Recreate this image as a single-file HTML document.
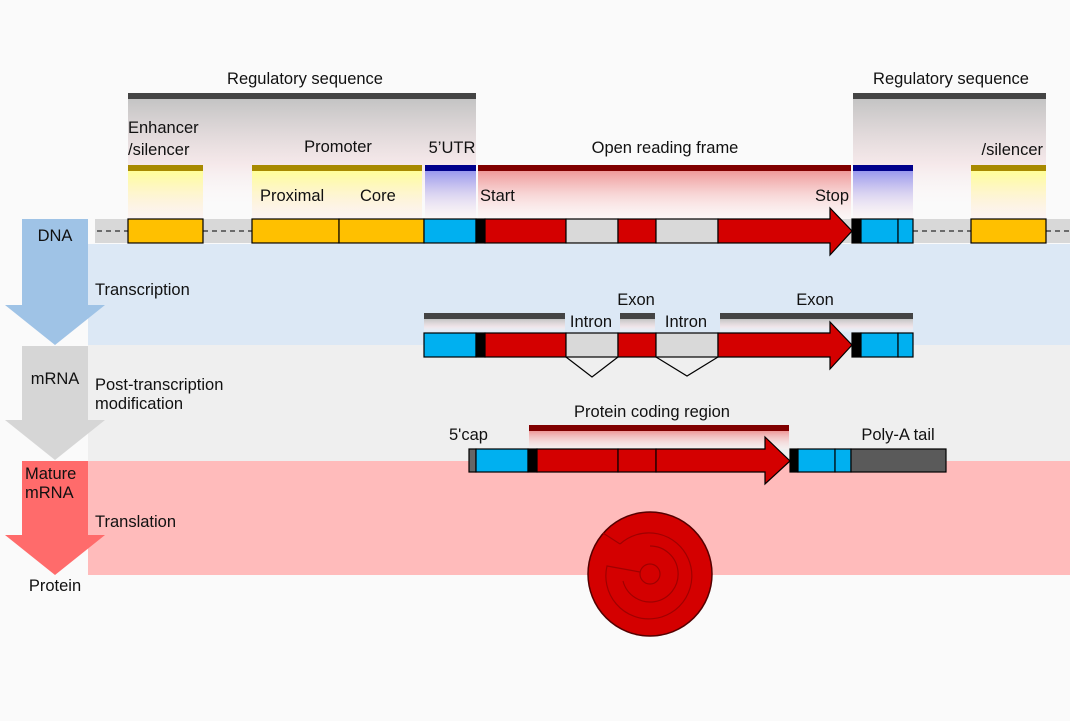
<!DOCTYPE html>
<html><head><meta charset="utf-8"><style>
html,body{margin:0;padding:0;background:#fafafa;}
svg{display:block;}
text{font-family:"Liberation Sans","DejaVu Sans",sans-serif;font-size:16.5px;fill:#111;}
</style></head><body>
<svg width="1070" height="721" viewBox="0 0 1070 721" xmlns="http://www.w3.org/2000/svg">
<defs>
<linearGradient id="gGray" x1="0" y1="0" x2="0" y2="1"><stop offset="0" stop-color="#c4c4c4"/><stop offset="0.55" stop-color="#f4e4e6" stop-opacity="0.8"/><stop offset="1" stop-color="#fff" stop-opacity="0"/></linearGradient>
<linearGradient id="gYel" x1="0" y1="0" x2="0" y2="1"><stop offset="0" stop-color="#ffff99"/><stop offset="1" stop-color="#ffe9e9" stop-opacity="0.4"/></linearGradient>
<linearGradient id="gBlu" x1="0" y1="0" x2="0" y2="1"><stop offset="0" stop-color="#9999ee"/><stop offset="1" stop-color="#ffeeee" stop-opacity="0.3"/></linearGradient>
<linearGradient id="gRed" x1="0" y1="0" x2="0" y2="1"><stop offset="0" stop-color="#ee9999"/><stop offset="1" stop-color="#ffeeee" stop-opacity="0.3"/></linearGradient>
</defs>
<rect width="1070" height="721" fill="#fafafa"/>
<rect x="88" y="244" width="982" height="101" fill="#dce8f5"/>
<rect x="88" y="345" width="982" height="116" fill="#efefef"/>
<rect x="88" y="461" width="982" height="114" fill="#ffbbbb"/>
<path d="M22 219H88V305H105L55 345L5 305H22Z" fill="#9fc3e6"/>
<path d="M22 346H88V420H105L55 460L5 420H22Z" fill="#d6d6d6"/>
<path d="M22 461H88V535H105L55 575L5 535H22Z" fill="#ff6b6b"/>
<rect x="128" y="99" width="348" height="118" fill="url(#gGray)"/>
<rect x="128" y="93" width="348" height="6" fill="#444"/>
<rect x="853" y="99" width="193" height="118" fill="url(#gGray)"/>
<rect x="853" y="93" width="193" height="6" fill="#444"/>
<rect x="128" y="171" width="75" height="48" fill="url(#gYel)"/>
<rect x="128" y="165" width="75" height="6" fill="#a88a00"/>
<rect x="252" y="171" width="170" height="48" fill="url(#gYel)"/>
<rect x="252" y="165" width="170" height="6" fill="#a88a00"/>
<rect x="425" y="171" width="51" height="48" fill="url(#gBlu)"/>
<rect x="425" y="165" width="51" height="6" fill="#00008b"/>
<rect x="478" y="171" width="373" height="48" fill="url(#gRed)"/>
<rect x="478" y="165" width="373" height="6" fill="#800000"/>
<rect x="853" y="171" width="60" height="48" fill="url(#gBlu)"/>
<rect x="853" y="165" width="60" height="6" fill="#00008b"/>
<rect x="971" y="171" width="75" height="48" fill="url(#gYel)"/>
<rect x="971" y="165" width="75" height="6" fill="#a88a00"/>
<rect x="95" y="219" width="975" height="24" fill="#d8d8d8"/>
<g stroke="#000" stroke-width="1" stroke-dasharray="5,4">
<line x1="97" y1="231" x2="128" y2="231"/><line x1="203" y1="231" x2="252" y2="231"/>
<line x1="913" y1="231" x2="971" y2="231"/><line x1="1046" y1="231" x2="1070" y2="231"/>
</g>
<g stroke="#000" stroke-width="1.2">
<rect x="128" y="219" width="75" height="24" fill="#ffc000"/>
<rect x="252" y="219" width="87" height="24" fill="#ffc000"/>
<rect x="339" y="219" width="85" height="24" fill="#ffc000"/>
<rect x="424" y="219" width="52" height="24" fill="#00b0f0"/>
<rect x="476" y="219" width="9" height="24" fill="#000"/>
<rect x="485" y="219" width="81" height="24" fill="#d40000"/>
<rect x="566" y="219" width="52" height="24" fill="#d9d9d9"/>
<rect x="618" y="219" width="38" height="24" fill="#d40000"/>
<rect x="656" y="219" width="62" height="24" fill="#d9d9d9"/>
<path d="M718 219H830V208L852 231L830 255V243H718Z" fill="#d40000"/>
<rect x="852" y="219" width="9" height="24" fill="#000"/>
<rect x="861" y="219" width="37" height="24" fill="#00b0f0"/>
<rect x="898" y="219" width="15" height="24" fill="#00b0f0"/>
<rect x="971" y="219" width="75" height="24" fill="#ffc000"/>
</g>
<rect x="424" y="319" width="141" height="14" fill="url(#gGray)"/>
<rect x="424" y="313" width="141" height="6" fill="#444"/>
<rect x="620" y="319" width="35" height="14" fill="url(#gGray)"/>
<rect x="620" y="313" width="35" height="6" fill="#444"/>
<rect x="720" y="319" width="193" height="14" fill="url(#gGray)"/>
<rect x="720" y="313" width="193" height="6" fill="#444"/>
<g stroke="#000" stroke-width="1.2">
<rect x="424" y="333" width="52" height="24" fill="#00b0f0"/>
<rect x="476" y="333" width="9" height="24" fill="#000"/>
<rect x="485" y="333" width="81" height="24" fill="#d40000"/>
<rect x="566" y="333" width="52" height="24" fill="#d9d9d9"/>
<rect x="618" y="333" width="38" height="24" fill="#d40000"/>
<rect x="656" y="333" width="62" height="24" fill="#d9d9d9"/>
<path d="M718 333H830V322L852 345L830 369V357H718Z" fill="#d40000"/>
<rect x="852" y="333" width="9" height="24" fill="#000"/>
<rect x="861" y="333" width="37" height="24" fill="#00b0f0"/>
<rect x="898" y="333" width="15" height="24" fill="#00b0f0"/>
<polyline points="566,357 592,377 618,357" fill="none"/>
<polyline points="656,357 687,376 718,357" fill="none"/>
</g>
<rect x="529" y="431" width="260" height="18" fill="url(#gRed)"/>
<rect x="529" y="425" width="260" height="6" fill="#800000"/>
<g stroke="#000" stroke-width="1.2">
<rect x="469" y="449" width="7" height="23" fill="#666"/>
<rect x="476" y="449" width="52" height="23" fill="#00b0f0"/>
<rect x="528" y="449" width="9" height="23" fill="#000"/>
<rect x="537" y="449" width="81" height="23" fill="#d40000"/>
<rect x="618" y="449" width="38" height="23" fill="#d40000"/>
<path d="M656 449H765V437L790 461L765 484V472H656Z" fill="#d40000"/>
<rect x="790" y="449" width="8" height="23" fill="#000"/>
<rect x="798" y="449" width="37" height="23" fill="#00b0f0"/>
<rect x="835" y="449" width="16" height="23" fill="#00b0f0"/>
<rect x="851" y="449" width="95" height="23" fill="#5a5a5a"/>
</g>
<circle cx="650" cy="574" r="62" fill="#d40000" stroke="#500" stroke-width="1.5"/>
<g fill="none" stroke="#a00000" stroke-width="1.2">
<circle cx="650" cy="574" r="10"/>
<path d="M640 572 L607 566 A43 43 0 1 0 620 544"/>
<path d="M650 546 A28 28 0 1 1 623 581"/>
<path d="M620 544 L603 533"/>
</g>
<text x="305" y="84" text-anchor="middle">Regulatory sequence</text>
<text x="951" y="84" text-anchor="middle">Regulatory sequence</text>
<text x="128" y="133">Enhancer</text>
<text x="128" y="155">/silencer</text>
<text x="338" y="152" text-anchor="middle">Promoter</text>
<text x="452" y="153" text-anchor="middle">5’UTR</text>
<text x="665" y="153" text-anchor="middle">Open reading frame</text>
<text x="1043" y="155" text-anchor="end">/silencer</text>
<text x="260" y="201">Proximal</text>
<text x="360" y="201">Core</text>
<text x="480" y="201">Start</text>
<text x="849" y="201" text-anchor="end">Stop</text>
<text x="55" y="241" text-anchor="middle">DNA</text>
<text x="95" y="295">Transcription</text>
<text x="636" y="305" text-anchor="middle">Exon</text>
<text x="815" y="305" text-anchor="middle">Exon</text>
<text x="591" y="327" text-anchor="middle">Intron</text>
<text x="686" y="327" text-anchor="middle">Intron</text>
<text x="55" y="384" text-anchor="middle">mRNA</text>
<text x="95" y="390">Post-transcription</text>
<text x="95" y="409">modification</text>
<text x="652" y="417" text-anchor="middle">Protein coding region</text>
<text x="449" y="440">5'cap</text>
<text x="898" y="440" text-anchor="middle">Poly-A tail</text>
<text x="25" y="479">Mature</text>
<text x="25" y="498">mRNA</text>
<text x="95" y="527">Translation</text>
<text x="55" y="591" text-anchor="middle">Protein</text>
</svg>
</body></html>
